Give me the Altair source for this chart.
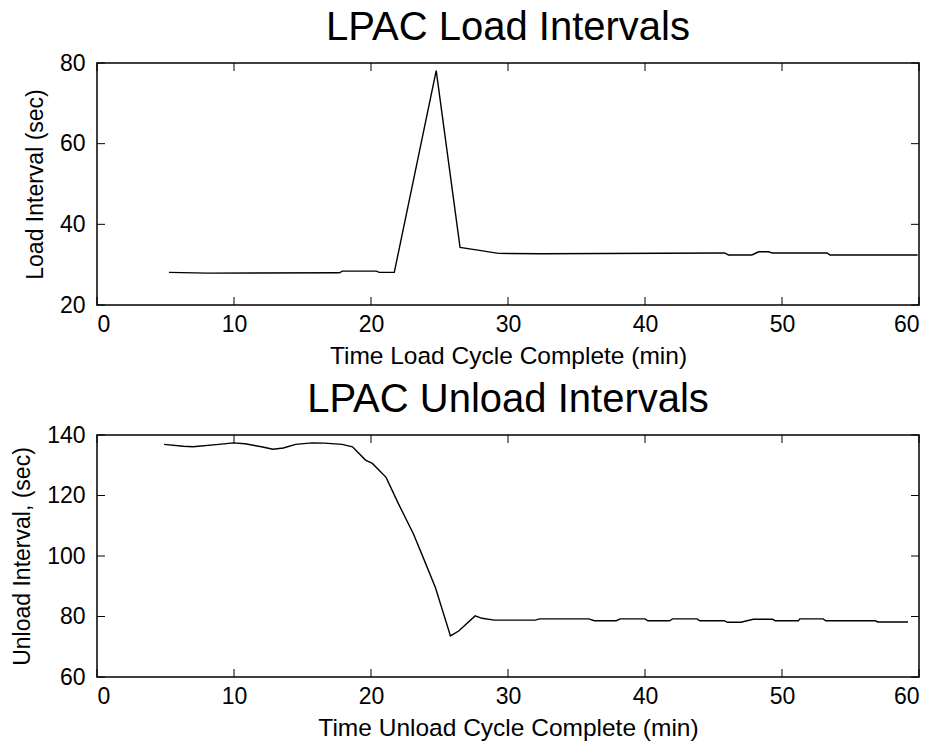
import altair as alt
import pandas as pd

# ---- data ----
load_time = [5.25, 8.1, 17.7, 17.9, 20.4, 20.6, 21.7, 24.76, 26.5, 27.8, 29.3, 32.4,
             45.8, 46.1, 47.8, 48.3, 49.0, 49.3, 53.3, 53.5, 59.9]
load_interval = [28.1, 27.9, 28.0, 28.4, 28.4, 28.1, 28.1, 78.1, 34.3, 33.6, 32.8, 32.7,
                 32.9, 32.4, 32.4, 33.2, 33.2, 32.9, 32.9, 32.4, 32.4]

unload_time = [4.9, 6.3, 7.0, 8.9, 9.95, 10.8, 12.0, 12.85, 13.6, 14.5, 15.7, 16.6, 17.9,
               18.65, 19.6, 20.1, 21.1, 22.0, 23.1, 23.7, 24.7, 25.8, 26.4, 27.6, 28.1,
               29.0, 32.0, 32.3, 35.9, 36.3, 37.9, 38.2, 40.0, 40.2, 41.8, 42.0, 43.8,
               44.0, 45.8, 46.0, 47.0, 47.9, 49.3, 49.5, 51.2, 51.3, 53.0, 53.2, 56.8,
               57.0, 59.2]
unload_interval = [136.9, 136.3, 136.1, 136.9, 137.4, 137.1, 136.1, 135.3, 135.7, 136.9,
                   137.4, 137.3, 136.9, 136.1, 131.7, 130.6, 126.0, 117.3, 107.3, 100.7,
                   89.6, 73.6, 75.2, 80.2, 79.4, 78.8, 78.8, 79.2, 79.2, 78.6, 78.6,
                   79.2, 79.2, 78.6, 78.6, 79.2, 79.2, 78.6, 78.6, 78.1, 78.1, 79.1,
                   79.1, 78.6, 78.6, 79.2, 79.2, 78.6, 78.6, 78.2, 78.2]

x_ticks = [0, 10, 20, 30, 40, 50, 60]
load_y_ticks = [20, 40, 60, 80]
unload_y_ticks = [60, 80, 100, 120, 140]

W, H = 822, 242
TICK = 8
TITLE_FONT = "Liberation Sans"
LABEL_FONT = "Liberation Sans"


def panel(times, values, yticks, title, xtitle, ytitle):
    df = pd.DataFrame({"t": times, "v": values})
    xt = pd.DataFrame({"t": x_ticks})
    yt = pd.DataFrame({"v": yticks})
    xscale = alt.Scale(domain=[x_ticks[0], x_ticks[-1]], nice=False, zero=False)
    yscale = alt.Scale(domain=[yticks[0], yticks[-1]], nice=False, zero=False)

    line = alt.Chart(df).mark_line(color="black", strokeWidth=1.4).encode(
        x=alt.X("t:Q", scale=xscale, title=xtitle,
                axis=alt.Axis(values=x_ticks, tickSize=0, domain=False, grid=False,
                              labelFont=LABEL_FONT, labelFontSize=23, labelColor="black",
                              labelPadding=8, titleFont=TITLE_FONT, titleFontSize=24.5,
                              titleFontWeight="normal", titleColor="black",
                              titlePadding=8)),
        y=alt.Y("v:Q", scale=yscale, title=ytitle,
                axis=alt.Axis(values=yticks, tickSize=0, domain=False, grid=False,
                              labelFont=LABEL_FONT, labelFontSize=23, labelColor="black",
                              labelPadding=12, titleFont=TITLE_FONT, titleFontSize=23,
                              titleFontWeight="normal", titleColor="black",
                              titlePadding=12)),
    )
    xt_bottom = alt.Chart(xt).mark_rule(color="black", strokeWidth=1).encode(
        x=alt.X("t:Q", scale=xscale), y=alt.value(H), y2=alt.value(H - TICK))
    xt_top = alt.Chart(xt).mark_rule(color="black", strokeWidth=1).encode(
        x=alt.X("t:Q", scale=xscale), y=alt.value(0), y2=alt.value(TICK))
    yt_left = alt.Chart(yt).mark_rule(color="black", strokeWidth=1).encode(
        y=alt.Y("v:Q", scale=yscale), x=alt.value(0), x2=alt.value(TICK))
    yt_right = alt.Chart(yt).mark_rule(color="black", strokeWidth=1).encode(
        y=alt.Y("v:Q", scale=yscale), x=alt.value(W), x2=alt.value(W - TICK))

    return alt.layer(line, xt_bottom, xt_top, yt_left, yt_right).properties(
        width=W, height=H,
        title=alt.TitleParams(title, font=TITLE_FONT, fontSize=40, fontWeight="normal",
                              color="black", anchor="middle", offset=4),
    )


top = panel(load_time, load_interval, load_y_ticks, "LPAC Load Intervals",
            "Time Load Cycle Complete (min)", "Load Interval (sec)")
bottom = panel(unload_time, unload_interval, unload_y_ticks, "LPAC Unload Intervals",
               "Time Unload Cycle Complete (min)", "Unload Interval, (sec)")

chart = alt.vconcat(top, bottom, spacing=10).properties(
    padding={"left": 10, "top": 7, "right": 6, "bottom": 5},
    background="white",
).configure_view(stroke="black", strokeWidth=1.5)

chart.save("out.html", embed_options={"renderer": "svg", "actions": False})
